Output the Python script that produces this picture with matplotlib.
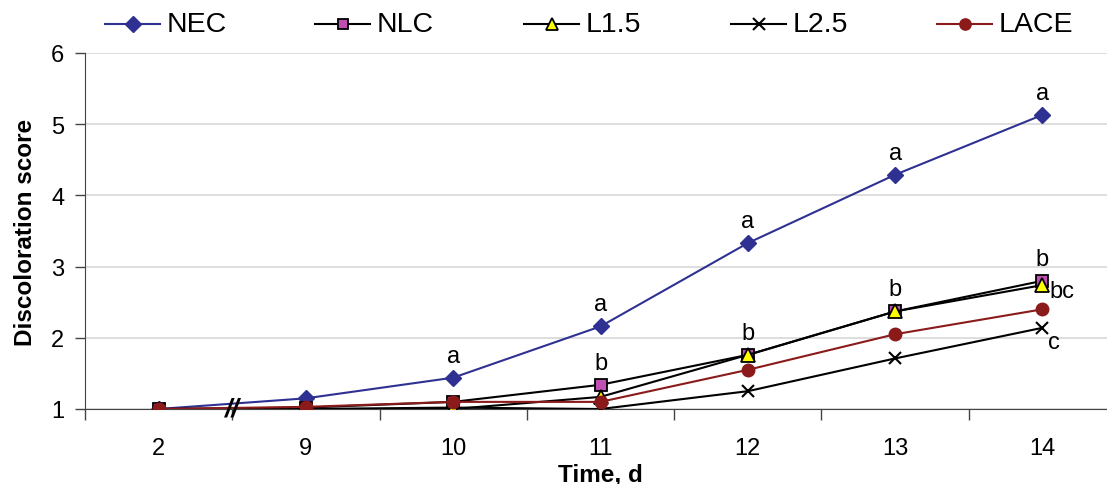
import matplotlib
matplotlib.use("Agg")
import matplotlib.pyplot as plt
from matplotlib.lines import Line2D
import numpy as np

plt.rcParams['font.family'] = ['Liberation Sans', 'DejaVu Sans']

days = ["2", "9", "10", "11", "12", "13", "14"]
nec = [1.00, 1.15, 1.44, 2.16, 3.33, 4.29, 5.13]
nlc = [1.00, 1.02, 1.10, 1.34, 1.76, 2.37, 2.80]
l15 = [1.00, 1.00, 1.00, 1.17, 1.76, 2.37, 2.74]
l25 = [1.00, 1.00, 1.02, 1.00, 1.25, 1.71, 2.14]
lace = [1.00, 1.03, 1.10, 1.10, 1.55, 2.05, 2.40]

letters_nec = ["", "", "a", "a", "a", "a", "a"]
letters_nlc = ["", "", "", "b", "b", "b", "b"]

NAVY = "#2E3192"
RED = "#8B1A1A"
FS = 17

fig = plt.figure(figsize=(11.07, 4.85), dpi=100)
ax = fig.add_axes([85/1107, 1-410/485, (1116-85)/1107, (410-54)/485])

x = np.arange(len(days))
styles = [
    ("NEC", nec, dict(color=NAVY, marker="D", ms=8.5, mfc=NAVY, mec=NAVY, zorder=3)),
    ("NLC", nlc, dict(color="black", marker="s", ms=8.5, mfc="#C04FB4", mec="black", mew=1.3, zorder=4)),
    ("L1.5", l15, dict(color="black", marker="^", ms=9.5, mfc="#FFFF00", mec="black", mew=1.3, zorder=5)),
    ("L2.5", l25, dict(color="black", marker="x", ms=9, mew=1.5, zorder=3)),
    ("LACE", lace, dict(color=RED, marker="o", ms=9, mfc=RED, mec=RED, zorder=6)),
]
for name, vals, kw in styles:
    ax.plot(x, vals, lw=1.5, label=name, **kw)

ax.set_xlim(-0.5, len(days) - 0.5)
ax.set_ylim(1, 6)
ax.set_yticks([1, 2, 3, 4, 5, 6])
ax.set_xticks(x)
ax.set_xticklabels(days)
ax.set_xticks(np.arange(-0.5, len(days) + 0.5, 1), minor=True)
ax.tick_params(axis='x', which='major', length=0, labelsize=FS, pad=20)
ax.tick_params(axis='x', which='minor', length=8, width=1, color="#444444")
ax.tick_params(axis='y', length=7, width=1, labelsize=FS, color="#444444", pad=8)
ax.yaxis.grid(True, color="#D8D8D8", lw=1.2)
ax.set_axisbelow(True)
for s in ["top", "right"]:
    ax.spines[s].set_visible(False)
ax.spines["left"].set_color("#444444")
ax.spines["bottom"].set_color("#444444")

ax.set_ylabel("Discoloration score", fontsize=17.5, fontweight="bold", labelpad=10)
ax.set_xlabel("Time, d", fontsize=17.5, fontweight="bold", labelpad=2.5)

for i, t in enumerate(letters_nec):
    if t:
        ax.annotate(t, (x[i], nec[i]), xytext=(0, 8), textcoords="offset points",
                    ha="center", va="bottom", fontsize=FS)
for i, t in enumerate(letters_nlc):
    if t:
        ax.annotate(t, (x[i], nlc[i]), xytext=(0, 8), textcoords="offset points",
                    ha="center", va="bottom", fontsize=FS)
ax.annotate("bc", (x[6], l15[6]), xytext=(5, -4), textcoords="offset points",
            ha="left", va="center", fontsize=FS)
ax.annotate("c", (x[6], l25[6]), xytext=(4, -2), textcoords="offset points",
            ha="left", va="top", fontsize=FS)

# axis break marker
ax.text(0.5, 1.0, "//", fontsize=19, fontweight="bold", style="italic",
        ha="center", va="center", zorder=10, clip_on=False)

# legend drawn as equally spaced slots
leg_x0 = [105, 315, 524, 731, 937]
leg_y = 1 - 25/485
for (name, vals, kw), x0 in zip(styles, leg_x0):
    kw2 = {k: v for k, v in kw.items() if k != "zorder"}
    kw2["ms"] = kw2["ms"] * 0.9
    line = Line2D([x0/1107, (x0+55)/1107], [leg_y, leg_y], lw=1.5,
                  transform=fig.transFigure, **{k: v for k, v in kw2.items() if k not in ("marker",)},
                  marker="None")
    fig.add_artist(line)
    mk = Line2D([(x0+27.5)/1107], [leg_y], transform=fig.transFigure, linestyle="None", **kw2)
    fig.add_artist(mk)
    fig.text((x0+62)/1107, leg_y, name, fontsize=20.5, ha="left", va="center")

fig.savefig("out.png", dpi=100)
